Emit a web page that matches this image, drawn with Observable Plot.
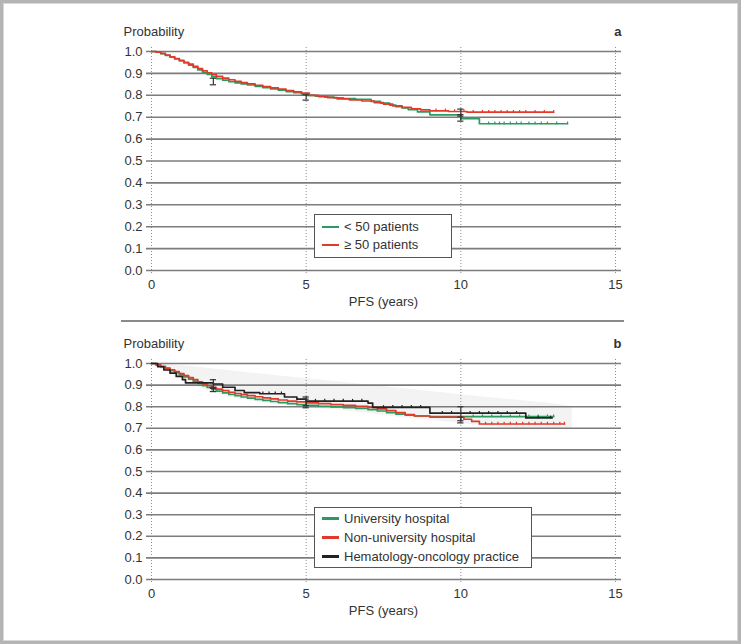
<!DOCTYPE html>
<html><head><meta charset="utf-8">
<script src="https://cdn.jsdelivr.net/npm/d3@7"></script>
<script src="https://cdn.jsdelivr.net/npm/@observablehq/plot@0.6"></script>
<style>
body{margin:0;background:#fff;}
#wrap{position:relative;width:741px;height:644px;overflow:hidden;font-family:"Liberation Sans",Arial,sans-serif;color:#333;}
#frame{position:absolute;left:0;top:0;width:741px;height:644px;box-sizing:border-box;border:3px solid #b4b4b4;box-shadow:inset 0 0 0 1px #d8d8d8;pointer-events:none;z-index:5;}
.panel{position:absolute;left:0;}
.legend{position:absolute;background:#fff;border:1.5px solid #555;box-sizing:border-box;font-size:13px;color:#333;z-index:3;}
.legend div{display:flex;align-items:center;white-space:nowrap;}
.legend span.sw{display:inline-block;width:17px;height:2.5px;margin-right:5px;}
#sep{position:absolute;left:121px;top:320px;width:503px;height:1.5px;background:#8a8a8a;}
</style></head>
<body>
<div id="wrap">
  <div id="panelA" class="panel" style="top:0px"></div>
  <div id="sep"></div>
  <div id="panelB" class="panel" style="top:311px"></div>
  <div id="legA" class="legend" style="left:314px;top:214px;width:138px;height:44px;padding:3px 0 0 7px;line-height:18px"></div>
  <div id="legB" class="legend" style="left:314px;top:507px;width:218px;height:61px;padding:1px 0 0 7px;line-height:19px"></div>
  <div id="frame"></div>
</div>
<script>
// ---------- axis ticks ----------
const xTicks = [0, 5, 10, 15];
const yTicks = [0, 0.1, 0.2, 0.3, 0.4, 0.5, 0.6, 0.7, 0.8, 0.9, 1.0];

// ---------- panel a: centre size ----------
const seriesA = ["< 50 patients", "\u2265 50 patients"];
const colorsA = ["#2a9a5e", "#e23a2a"];
const a_lt50_t = [0,0.15,0.3,0.45,0.6,0.75,0.9,1.05,1.2,1.35,1.5,1.65,1.8,1.95,2.1,2.3,2.5,2.7,2.9,3.1,3.35,3.6,3.85,4.1,4.35,4.6,4.85,5.0,5.3,5.6,5.9,6.2,6.6,7.1,7.4,7.7,7.9,8.1,8.3,8.6,9.0,10.0,10.6,13.45];
const a_lt50_p = [1,0.997,0.99,0.982,0.974,0.966,0.957,0.948,0.938,0.927,0.916,0.905,0.895,0.885,0.876,0.869,0.862,0.857,0.852,0.847,0.841,0.835,0.829,0.823,0.817,0.812,0.806,0.800,0.796,0.792,0.788,0.785,0.781,0.772,0.764,0.755,0.748,0.742,0.735,0.724,0.711,0.693,0.670,0.670];
const a_ge50_t = [0,0.15,0.3,0.45,0.6,0.75,0.9,1.05,1.2,1.35,1.5,1.65,1.8,1.95,2.1,2.3,2.5,2.7,2.9,3.1,3.35,3.6,3.85,4.1,4.35,4.6,4.85,5.1,5.4,5.7,6.0,6.4,6.8,7.2,7.5,7.8,8.1,8.4,8.7,9.0,9.6,10.2,13.0];
const a_ge50_p = [1,0.997,0.991,0.984,0.976,0.968,0.96,0.951,0.942,0.932,0.922,0.912,0.903,0.894,0.886,0.878,0.871,0.864,0.858,0.852,0.846,0.840,0.834,0.828,0.822,0.816,0.810,0.800,0.794,0.789,0.784,0.779,0.774,0.767,0.760,0.752,0.745,0.738,0.733,0.729,0.726,0.723,0.723];
const a_lt50_cens = [10.9, 11.1, 11.25, 11.4, 11.6, 11.8, 11.95, 12.2, 12.4, 12.6, 12.8, 13.1, 13.45];
const a_ge50_cens = [9.2, 9.5, 9.8, 10.1, 10.4, 10.7, 10.9, 11.1, 11.3, 11.5, 11.7, 11.9, 12.1, 12.4, 12.7, 13.0];
const a_err_t = [2.0, 5.0, 10.0, 10.0];
const a_err_lo = [0.848, 0.778, 0.682, 0.705];
const a_err_hi = [0.878, 0.802, 0.712, 0.737];
const a_err_s = ["< 50 patients", "\u2265 50 patients", "< 50 patients", "\u2265 50 patients"];

// ---------- panel b: setting ----------
const seriesB = ["University hospital", "Non-university hospital", "Hematology-oncology practice"];
const colorsB = ["#2a9a5e", "#e23a2a", "#222222"];
const b_univ_t = [0,0.15,0.3,0.45,0.6,0.75,0.9,1.05,1.2,1.35,1.5,1.65,1.8,1.95,2.1,2.3,2.5,2.7,2.9,3.1,3.35,3.6,3.85,4.1,4.4,4.7,5.0,5.4,5.8,6.2,6.6,7.0,7.3,7.6,7.9,8.2,8.5,9.0,10.0,13.0];
const b_univ_p = [1,0.993,0.985,0.976,0.967,0.958,0.948,0.938,0.928,0.918,0.908,0.898,0.889,0.880,0.872,0.864,0.857,0.851,0.845,0.840,0.834,0.829,0.824,0.819,0.814,0.810,0.806,0.802,0.799,0.796,0.792,0.786,0.780,0.773,0.766,0.761,0.757,0.754,0.754,0.754];
const b_nonu_t = [0,0.15,0.3,0.45,0.6,0.75,0.9,1.05,1.2,1.35,1.5,1.65,1.8,1.95,2.1,2.3,2.5,2.7,2.9,3.1,3.35,3.6,3.85,4.1,4.4,4.7,5.0,5.4,5.8,6.2,6.6,7.0,7.3,7.6,7.9,8.2,8.5,9.0,10.1,10.35,10.6,13.35];
const b_nonu_p = [1,0.994,0.987,0.979,0.971,0.962,0.953,0.944,0.935,0.925,0.915,0.906,0.897,0.889,0.881,0.874,0.867,0.861,0.856,0.851,0.846,0.841,0.836,0.831,0.826,0.822,0.818,0.814,0.810,0.806,0.802,0.797,0.790,0.782,0.773,0.764,0.757,0.752,0.742,0.732,0.720,0.720];
const b_prac_t = [0,0.2,0.4,0.6,0.8,1.0,1.1,2.0,2.3,2.7,3.0,3.5,4.3,4.7,5.0,7.0,7.15,9.0,12.1,12.95];
const b_prac_p = [1,0.985,0.97,0.955,0.94,0.925,0.91,0.905,0.890,0.875,0.865,0.860,0.845,0.835,0.826,0.817,0.797,0.770,0.748,0.748];
const b_univ_cens = [10.4, 10.7, 11.0, 11.3, 11.6, 11.9, 12.2, 12.5, 12.8, 13.0];
const b_nonu_cens = [10.8, 11.0, 11.2, 11.4, 11.6, 11.8, 12.0, 12.2, 12.4, 12.6, 12.8, 13.0, 13.2, 13.35];
const b_prac_cens = [3.6, 3.8, 4.0, 4.2, 5.3, 5.6, 5.9, 6.2, 6.5, 6.8, 7.5, 7.8, 8.1, 8.4, 8.7, 9.4, 9.7, 10.3, 10.6, 10.9, 11.2, 11.5, 11.8, 12.1, 12.5, 12.9];
const b_err_t = [2.0, 5.0, 10.0, 2.0, 5.0, 10.0];
const b_err_lo = [0.885, 0.795, 0.725, 0.870, 0.805, 0.735];
const b_err_hi = [0.925, 0.845, 0.800, 0.890, 0.835, 0.752];
const b_err_s = ["Hematology-oncology practice", "Hematology-oncology practice", "Hematology-oncology practice", "Non-university hospital", "Non-university hospital", "Non-university hospital"];
// light confidence band behind panel b
const b_band_t = [0, 1, 2, 3, 4, 5, 6, 7, 8, 9, 10, 11, 12, 13, 13.6];
const b_band_lo = [1, 0.920, 0.860, 0.830, 0.810, 0.795, 0.785, 0.770, 0.750, 0.738, 0.722, 0.708, 0.698, 0.695, 0.695];
const b_band_hi = [1, 0.990, 0.975, 0.960, 0.945, 0.930, 0.915, 0.900, 0.885, 0.870, 0.855, 0.840, 0.828, 0.815, 0.800];

// ---------- helpers ----------
function rows(name, ts, ps) { return ts.map((t, i) => ({t, p: ps[i], s: name})); }
function survAt(ts, ps, t) { let v = ps[0]; for (let i = 0; i < ts.length; i++) if (ts[i] <= t) v = ps[i]; return v; }
function cens(name, ts, ps, cs) { return cs.map(c => ({t: c, p: survAt(ts, ps, c), s: name})); }
function errs(T, L, H, S) { return T.map((t, i) => ({t, lo: L[i], hi: H[i], s: S[i]})); }

function panel(opts) {
  const {lines, censors, errors, band, names, colors, letter, height, marginTop, marginBottom} = opts;
  const marks = [];
  if (band) marks.push(Plot.areaY(band, {x: "t", y1: "lo", y2: "hi", fill: "#f3f3f3", curve: "basis"}));
  marks.push(Plot.ruleX(xTicks, {x: d => d, stroke: "#8c8c8c", strokeWidth: 1, strokeDasharray: "1,2", insetTop: -4, insetBottom: -3}));
  marks.push(Plot.ruleY(yTicks, {y: d => d, stroke: "#7c7c7c", strokeWidth: 1.6, insetLeft: -5, insetRight: -6}));
  marks.push(Plot.line(lines, {x: "t", y: "p", z: "s", stroke: "s", strokeWidth: 1.7, curve: "step-after"}));
  marks.push(Plot.ruleX(censors, {x: "t", y1: d => d.p - 0.004, y2: d => d.p + 0.008, stroke: "s", strokeWidth: 1.2}));
  marks.push(Plot.ruleX(errors, {x: "t", y1: "lo", y2: "hi", stroke: "#333", strokeWidth: 1.2}));
  marks.push(Plot.ruleY(errors, {y: "lo", x1: d => d.t - 0.1, x2: d => d.t + 0.1, stroke: "#333", strokeWidth: 1.2}));
  marks.push(Plot.ruleY(errors, {y: "hi", x1: d => d.t - 0.1, x2: d => d.t + 0.1, stroke: "#333", strokeWidth: 1.2}));
  marks.push(Plot.axisX({ticks: xTicks, tickSize: 0, tickPadding: 9, label: null, fontSize: 13}));
  marks.push(Plot.axisY({ticks: yTicks, tickSize: 0, tickPadding: 9, tickFormat: d3.format(".1f"), label: null, fontSize: 13}));
  marks.push(Plot.text(["PFS (years)"], {frameAnchor: "bottom", dy: 31, lineAnchor: "middle", fontSize: 13, fill: "#333"}));
  marks.push(Plot.text(["Probability"], {frameAnchor: "top-left", dx: -28, dy: -20, lineAnchor: "middle", textAnchor: "start", fontSize: 13, fill: "#333"}));
  marks.push(Plot.text([letter], {frameAnchor: "top-right", dx: 6, dy: -20, lineAnchor: "middle", textAnchor: "end", fontSize: 13, fontWeight: "bold", fill: "#333"}));
  return Plot.plot({
    width: 741, height, marginTop, marginBottom, marginLeft: 151, marginRight: 126,
    style: {fontFamily: "'Liberation Sans', Arial, sans-serif", fontSize: "13px", color: "#333", background: "transparent"},
    x: {domain: [0, 15]},
    y: {domain: [0, 1]},
    color: {domain: names, range: colors},
    marks
  });
}

const A = panel({
  lines: [...rows(seriesA[0], a_lt50_t, a_lt50_p), ...rows(seriesA[1], a_ge50_t, a_ge50_p)],
  censors: [...cens(seriesA[0], a_lt50_t, a_lt50_p, a_lt50_cens), ...cens(seriesA[1], a_ge50_t, a_ge50_p, a_ge50_cens)],
  errors: errs(a_err_t, a_err_lo, a_err_hi, a_err_s),
  band: null, names: seriesA, colors: colorsA, letter: "a",
  height: 310, marginTop: 51, marginBottom: 40
});
const B = panel({
  lines: [...rows(seriesB[0], b_univ_t, b_univ_p), ...rows(seriesB[1], b_nonu_t, b_nonu_p), ...rows(seriesB[2], b_prac_t, b_prac_p)],
  censors: [...cens(seriesB[0], b_univ_t, b_univ_p, b_univ_cens), ...cens(seriesB[1], b_nonu_t, b_nonu_p, b_nonu_cens), ...cens(seriesB[2], b_prac_t, b_prac_p, b_prac_cens)],
  errors: errs(b_err_t, b_err_lo, b_err_hi, b_err_s),
  band: b_band_t.map((t, i) => ({t, lo: b_band_lo[i], hi: b_band_hi[i]})),
  names: seriesB, colors: colorsB, letter: "b",
  height: 310, marginTop: 52, marginBottom: 42
});
document.getElementById("panelA").appendChild(A);
document.getElementById("panelB").appendChild(B);

function legend(el, names, colors) {
  names.forEach((n, i) => {
    const row = document.createElement("div");
    const sw = document.createElement("span");
    sw.className = "sw"; sw.style.background = colors[i];
    row.appendChild(sw);
    row.appendChild(document.createTextNode(n));
    el.appendChild(row);
  });
}
legend(document.getElementById("legA"), seriesA, colorsA);
legend(document.getElementById("legB"), seriesB, colorsB);
</script>
</body></html>
